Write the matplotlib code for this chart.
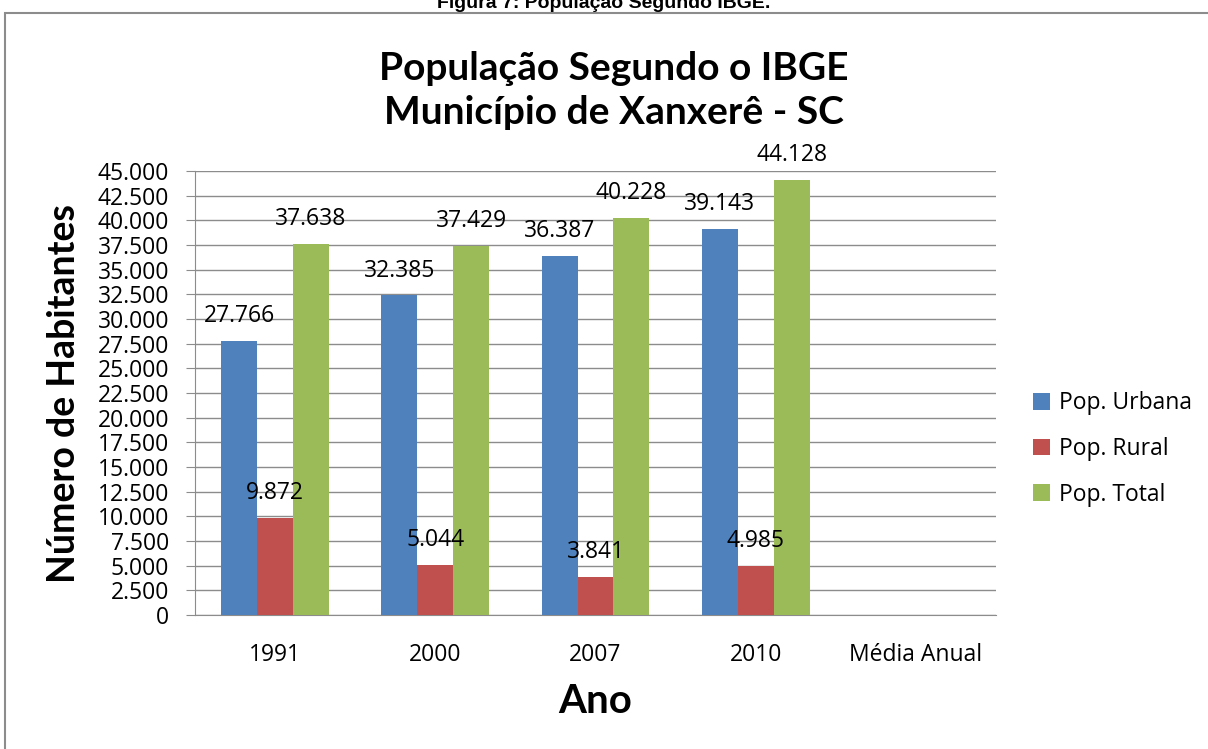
import numpy as np
import matplotlib.pyplot as plt
from matplotlib.patches import Rectangle

plt.rcParams['font.family'] = ['Lato', 'DejaVu Sans']

# dados do gráfico
categorias = ['1991', '2000', '2007', '2010', 'Média Anual']
pop_urbana = [27766, 32385, 36387, 39143]
pop_rural = [9872, 5044, 3841, 4985]
pop_total = [37638, 37429, 40228, 44128]
series_nomes = ['Pop. Urbana', 'Pop. Rural', 'Pop. Total']
cores = ['#4F81BD', '#C0504D', '#9BBB59']

fonte_texto = ['Open Sans', 'DejaVu Sans']


def fmt_milhar(v):
    return f'{int(v):,}'.replace(',', '.')


fig = plt.figure(figsize=(12.08, 7.49), dpi=100)
ax = fig.add_axes([0.1614, 0.1789, 0.6631, 0.5928])

# moldura externa e legenda da figura (cortada no topo, como no original)
fig.patches.append(Rectangle((0.004, -0.05), 1.2, 1.05 - 13 / 749, transform=fig.transFigure,
                             fill=False, edgecolor='#8c8c8c', linewidth=1.5))
fig.text(0.5, 1 - 8 / 749, 'Figura 7: População Segundo IBGE.', ha='center', va='baseline',
         fontsize=14, fontweight='bold', family='Liberation Sans')

x = np.arange(len(categorias))
largura = 0.224
valores = [pop_urbana, pop_rural, pop_total]
for i, (serie, nome, cor) in enumerate(zip(valores, series_nomes, cores)):
    pos = x[:len(serie)] + (i - 1) * largura
    barras = ax.bar(pos, serie, largura, color=cor, label=nome, zorder=3)
    for b, v in zip(barras, serie):
        ax.annotate(fmt_milhar(v), (b.get_x() + b.get_width() / 2, v),
                    xytext=(0, 13.5), textcoords='offset points',
                    ha='center', va='baseline', fontsize=16.5, family=fonte_texto,
                    zorder=10, annotation_clip=False)

ax.set_xlim(-0.5, 4.5)
ax.set_ylim(0, 45000)
ax.set_yticks(np.arange(0, 45001, 2500))
ax.set_yticklabels([fmt_milhar(v) for v in np.arange(0, 45001, 2500)])
ax.set_xticks(x)
ax.set_xticklabels(categorias)
ax.tick_params(axis='y', direction='out', length=6.5, color='#8c8c8c', labelsize=16.5, pad=12)
ax.tick_params(axis='x', length=0, labelsize=16.5, pad=20)
for lab in ax.get_xticklabels() + ax.get_yticklabels():
    lab.set_family(fonte_texto)

ax.grid(True, axis='y', color='#8c8c8c', linewidth=1, zorder=0)
for s in ['top', 'right']:
    ax.spines[s].set_visible(False)
ax.spines['left'].set_color('#8c8c8c')
ax.spines['bottom'].set_color('#8c8c8c')

ax.set_ylabel('Número de Habitantes', fontsize=27, fontweight='bold', labelpad=12)
ax.set_xlabel('Ano', fontsize=29, fontweight='bold', labelpad=12)
fig.text(0.508, 1 - 68 / 749, 'População Segundo o IBGE', ha='center', va='center',
         fontsize=28, fontweight='bold')
fig.text(0.508, 1 - 113 / 749, 'Município de Xanxerê - SC', ha='center', va='center',
         fontsize=28, fontweight='bold')

ax.legend(loc='center left', bbox_to_anchor=(1.02, 0.374), frameon=False,
          handlelength=0.75, handleheight=0.75, labelspacing=0.95, handletextpad=0.4,
          prop={'family': fonte_texto, 'size': 16.5})

fig.savefig('out.png', dpi=100)
